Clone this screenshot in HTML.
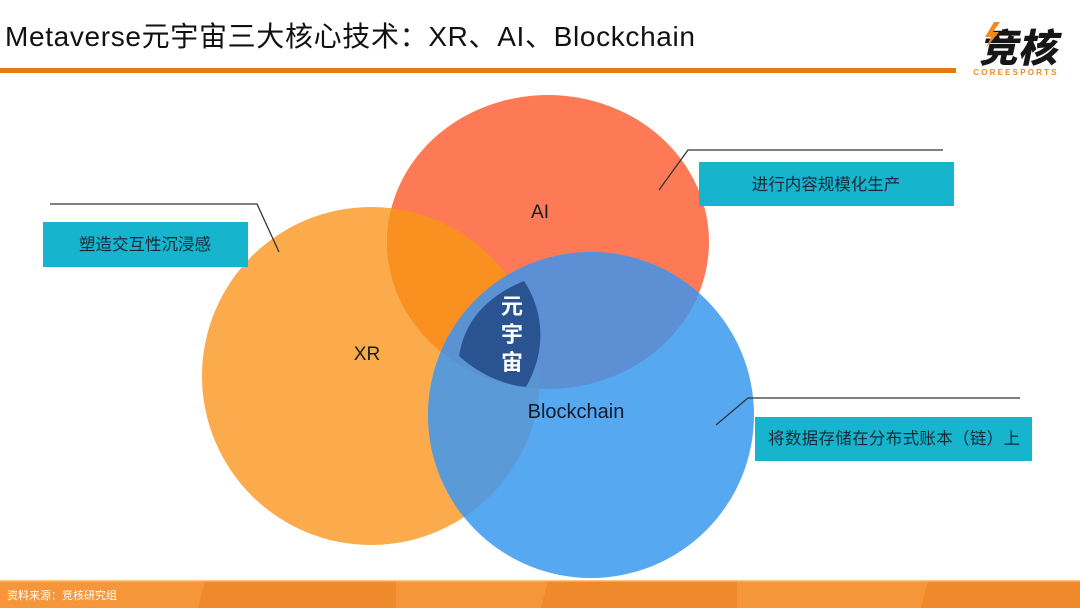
<!DOCTYPE html>
<html>
<head>
<meta charset="utf-8">
<style>
html,body{margin:0;padding:0;background:#fff;}
body{width:1080px;height:608px;overflow:hidden;}
svg{display:block;}
.t{font-family:"Liberation Sans","Noto Sans CJK SC",sans-serif;}
</style>
</head>
<body>
<svg width="1080" height="608" viewBox="0 0 1080 608" xmlns="http://www.w3.org/2000/svg">
  <defs>
    <clipPath id="cXR"><circle cx="371" cy="376" r="169"/></clipPath>
    <clipPath id="cAI"><ellipse cx="548" cy="242" rx="161" ry="147"/></clipPath>
    <clipPath id="cBC"><circle cx="591" cy="415" r="163"/></clipPath>
  </defs>

  <!-- Title -->
  <text class="t" x="5" y="46" font-size="28" fill="#111" textLength="690" lengthAdjust="spacing">Metaverse元宇宙三大核心技术：XR、AI、Blockchain</text>
  <rect x="0" y="68" width="956" height="5" fill="#e47a12"/>

  <!-- Logo -->
  <g transform="translate(1018,62) skewX(-12)">
    <text x="0" y="0" font-size="39" font-weight="900" fill="#161616" text-anchor="middle" style="font-family:'Noto Sans CJK SC','WenQuanYi Zen Hei',sans-serif;font-weight:900">竞核</text>
  </g>
  <polygon points="994,22 985,37 991,37 986,48 999,32 993,32 1000,22" fill="#f08a1e"/>
  <text class="t" x="1016" y="75" font-size="8" fill="#f08a1e" text-anchor="middle" letter-spacing="2.2" font-weight="bold">COREESPORTS</text>

  <!-- Circles -->
  <circle cx="371" cy="376" r="169" fill="#fbab4c"/>
  <ellipse cx="548" cy="242" rx="161" ry="147" fill="#fe7a56"/>
  <g clip-path="url(#cXR)"><ellipse cx="548" cy="242" rx="161" ry="147" fill="#f9901f"/></g>
  <circle cx="591" cy="415" r="163" fill="#56a8f1"/>
  <g clip-path="url(#cBC)">
    <ellipse cx="548" cy="242" rx="161" ry="147" fill="#5c8fd3"/>
    <circle cx="371" cy="376" r="169" fill="#5a9ad6"/>
    <g clip-path="url(#cAI)"><circle cx="371" cy="376" r="169" fill="#5b92d2"/></g>
  </g>

  <!-- Center shape -->
  <path d="M524,281 C490,295 465,318 459,356 C480,375 505,385 526,387 C546,352 545,313 524,281 Z" fill="#2a5391"/>
  <g class="t" font-size="22" fill="#fff" text-anchor="middle" font-weight="bold">
    <text x="512" y="314">元</text>
    <text x="512" y="342">宇</text>
    <text x="512" y="370">宙</text>
  </g>

  <!-- Circle labels -->
  <text class="t" x="540" y="218" font-size="19" fill="#1a1a22" text-anchor="middle">AI</text>
  <text class="t" x="367" y="360" font-size="19" fill="#1a1a22" text-anchor="middle">XR</text>
  <text class="t" x="576" y="418" font-size="20" fill="#141a2a" text-anchor="middle">Blockchain</text>

  <!-- Callout lines -->
  <g stroke="#333" stroke-width="1.3" fill="none">
    <polyline points="50,204 257,204 279,252"/>
    <polyline points="943,150 688,150 659,190"/>
    <polyline points="1020,398 748,398 716,425"/>
  </g>

  <!-- Callout boxes -->
  <rect x="43" y="222" width="205" height="45" fill="#17b4cd"/>
  <text class="t" x="145" y="250" font-size="16.5" fill="#1c2836" text-anchor="middle">塑造交互性沉浸感</text>

  <rect x="699" y="162" width="255" height="44" fill="#17b4cd"/>
  <text class="t" x="826" y="190" font-size="16.5" fill="#1c2836" text-anchor="middle">进行内容规模化生产</text>

  <rect x="755" y="417" width="277" height="44" fill="#17b4cd"/>
  <text class="t" x="768" y="444" font-size="16.5" fill="#1c2836" textLength="252" lengthAdjust="spacing">将数据存储在分布式账本（链）上</text>

  <!-- Footer -->
  <rect x="0" y="581" width="1080" height="27" fill="#f6963a"/>
  <polygon points="205,581 396,581 396,608 198,608" fill="#ef8a2c"/>
  <polygon points="548,581 737,581 737,608 541,608" fill="#ef8a2c"/>
  <polygon points="928,581 1080,581 1080,608 921,608" fill="#ef8a2c"/>
  <rect x="0" y="580" width="1080" height="1.5" fill="#fbc48a"/>
  <text class="t" x="7" y="599" font-size="11" fill="#fff">资料来源：竞核研究组</text>
</svg>
</body>
</html>
